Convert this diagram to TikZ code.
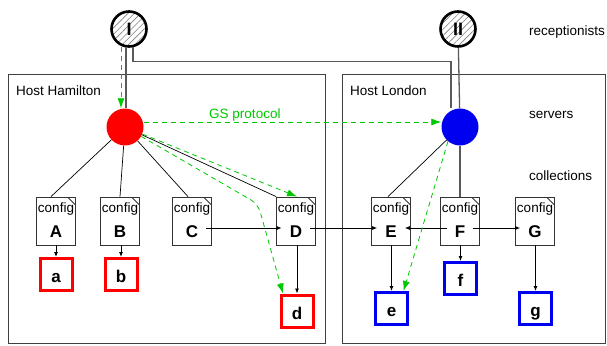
\documentclass[tikz,border=0pt]{standalone}
\usepackage{fontspec}
\setmainfont{Liberation Sans}
\usetikzlibrary{arrows.meta,patterns.meta}
\definecolor{gsgreen}{RGB}{0,200,0}
\definecolor{srvred}{RGB}{255,0,0}
\definecolor{srvblue}{RGB}{0,0,240}

\tikzset{
  host/.style={draw=black!75,line width=1pt},
  tag/.style={anchor=base west,inner sep=0pt},
  recept/.style={circle,draw,line width=2.6pt,minimum size=35pt,inner sep=0pt,
    pattern={Lines[angle=45,distance=4.5pt,line width=0.6pt]},pattern color=gray,
    font=\bfseries\fontsize{18}{20}\selectfont},
  server/.style={circle,minimum size=37pt,inner sep=0pt},
  doc/.style={draw=black!80,line width=0.8pt,minimum width=39pt,minimum height=48pt,inner sep=0pt,
    path picture={\draw[black!80,line width=0.8pt]
      ([xshift=-8pt]path picture bounding box.north east) -- ([yshift=-8pt]path picture bounding box.north east);}},
  letter/.style={font=\bfseries\fontsize{17}{20}\selectfont,inner xsep=8pt,inner ysep=0pt,
    text height=12pt,text depth=0pt},
  outbox/.style={draw,line width=3pt,minimum size=32pt,inner sep=0pt,
    text height=16pt,text depth=0pt,font=\bfseries\fontsize{17}{20}\selectfont},
  link/.style={draw=black!65,line width=1.3pt},
  wire/.style={black,line width=0.7pt},
  feed/.style={black,line width=0.8pt,-{Latex[length=5pt,width=4pt]}},
  gs/.style={gsgreen,dash pattern=on 5pt off 4pt,line width=0.8pt,-{Latex[length=10pt,width=7pt]}}
}

\begin{document}
\begin{tikzpicture}[x=1pt,y=-1pt,font=\fontsize{13.5}{16}\selectfont]
\useasboundingbox (0,0) rectangle (607,345);

% hosts
\draw[host] (8,74) rectangle (325,343);
\draw[host] (342,74) rectangle (605,343);
\node[tag] at (16,95) {Host Hamilton};
\node[tag] at (350,95) {Host London};

% layer names
\node[tag] at (529,36) {receptionists};
\node[tag] at (529,118) {servers};
\node[tag] at (529,180) {collections};

% receptionists and servers
\node[recept] (recI) at (129,29) {I};
\node[recept] (recII) at (458,29) {II};
\node[server,fill=srvred] (srvH) at (125,127) {};
\node[server,fill=srvblue] (srvL) at (460,127) {};

% collections
\foreach \lt/\px in {A/56,B/120,C/192,D/296,E/391,F/460,G/535}{
  \node[doc] (doc\lt) at (\px,221) {};
  \node at (\px,209.5) {config};
  \node[letter] (l\lt) at (\px,231) {\lt};
}
\node[outbox,draw=srvred] (a) at (56,274.5) {a};
\node[outbox,draw=srvred] (b) at (121,274.5) {b};
\node[outbox,draw=srvred] (d) at (297,311) {d};
\node[outbox,draw=srvblue] (e) at (391.5,308.5) {e};
\node[outbox,draw=srvblue] (f) at (460.5,278.5) {f};
\node[outbox,draw=srvblue] (g) at (535.5,308.5) {g};

% receptionist links
\draw[link] ([xshift=-3pt]recI.south) -- ([xshift=1pt]srvH.north);
\draw[link] ([xshift=4pt]recI.south) -- ++(0,14.5) -| ([xshift=-9pt]srvL.north);
\draw[link] (recII) -- (srvL);

% server to collections
\draw[wire] (srvH) -- ([xshift=-5pt]docA.north);
\draw[wire] (srvH) -- (docB.north);
\draw[wire] (srvH) -- ([xshift=-4pt]docC.north);
\draw[wire] (srvH) -- (docD.north west);
\draw[wire] (srvL) -- ([xshift=-3pt]docE.north);
\draw[link] (srvL) -- (docF.north);

% collection feeds
\draw[feed] ([yshift=3pt]lC.east) -- ([yshift=3pt]lD.west);
\draw[feed] ([yshift=3pt]lD.east) -- ([yshift=3pt]lE.west);
\draw[feed] ([yshift=3pt]lF.west) -- ([yshift=3pt]lE.east);
\draw[feed] ([yshift=3pt]lF.east) -- ([yshift=3pt]lG.west);
\foreach \lt/\bx in {A/a,B/b,D/d,E/e,F/f,G/g}
  \draw[feed] (doc\lt.south -| \bx) -- (\bx.north);

% GS protocol
\draw[gs] ([xshift=-8pt]recI.south) -- ([xshift=-4pt]srvH.north);
\draw[gs] ([yshift=5pt]srvH.east) -- node[pos=0.34,above,inner sep=0pt,gsgreen] {GS protocol} ([yshift=5pt]srvL.west);
\draw[gs] (srvH) -- ([xshift=1pt]docD.north);
\draw[gs,rounded corners=8pt] (srvH) -- (258,204) -- ([xshift=-14pt]d.north);
\draw[gs] (srvL.230) -- ([xshift=12pt]e.north);
\end{tikzpicture}
\end{document}
